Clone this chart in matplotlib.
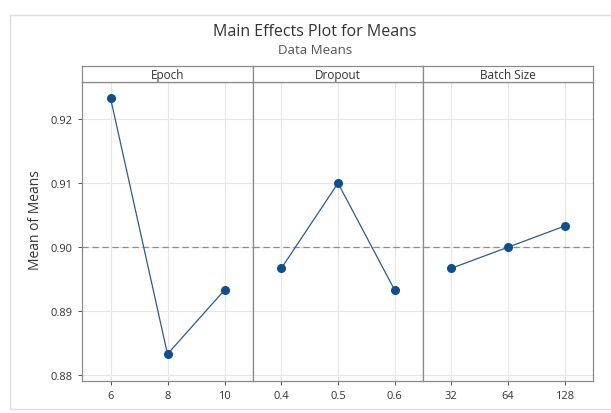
import matplotlib
matplotlib.use('Agg')
import matplotlib.pyplot as plt
from matplotlib.patches import Rectangle

# Factor levels and the mean response at each level
factors = ['Epoch', 'Dropout', 'Batch Size']
levels = [['6', '8', '10'], ['0.4', '0.5', '0.6'], ['32', '64', '128']]
means = [[0.9233, 0.8833, 0.8933],
         [0.8967, 0.9100, 0.8933],
         [0.8967, 0.9000, 0.9033]]
grand_mean = 0.90
yticks = [0.88, 0.89, 0.90, 0.91, 0.92]

plt.rcParams['font.family'] = ['Open Sans', 'DejaVu Sans']

fig = plt.figure(figsize=(6.11, 4.14), dpi=100)
fig.patches.append(Rectangle((10 / 611, 0.01), 1, 1 - 20 / 414, transform=fig.transFigure,
                             facecolor='none', edgecolor='#dddddd', linewidth=1))

left, bottom = 82 / 611, 1 - 382 / 414
widths = [171 / 611, 170 / 611, 170 / 611]
height = (382 - 83) / 414
strip_h = 16 / 414

frame = '#8a8a8a'
x = left
axes = []
for i in range(3):
    ax = fig.add_axes([x, bottom, widths[i], height])
    pos = range(len(levels[i]))
    ax.axhline(grand_mean, color='#8c8c8c', linestyle=(0, (5, 3)), linewidth=0.9, zorder=1)
    ax.plot(pos, means[i], color='#2e5c86', linewidth=0.9, zorder=2)
    ax.plot(pos, means[i], 'o', color='#0f4f8f', markersize=5.5, zorder=3)
    ax.set_xlim(-0.5, 2.5)
    ax.set_ylim(0.8791, 0.9258)
    ax.set_xticks(list(pos))
    ax.set_xticklabels(levels[i])
    ax.set_yticks(yticks)
    ax.grid(True, color='#e6e6e6', linewidth=0.8)
    ax.set_axisbelow(True)
    for s in ax.spines.values():
        s.set_color(frame)
        s.set_linewidth(0.9)
    ax.tick_params(colors='#555555', labelcolor='#333333', labelsize=8, length=3, width=0.7)
    if i == 0:
        ax.set_yticklabels(['%.2f' % v for v in yticks])
        ax.set_ylabel('Mean of Means', fontsize=10, color='#333333')
        ax.yaxis.set_label_coords(-0.23, 0.54)
    else:
        ax.tick_params(axis='y', left=False, labelleft=False)
    # strip with the factor name
    st = fig.add_axes([x, bottom + height, widths[i], strip_h])
    st.set_xticks([])
    st.set_yticks([])
    for s in st.spines.values():
        s.set_color(frame)
        s.set_linewidth(0.9)
    st.text(0.5, 0.45, factors[i], ha='center', va='center', fontsize=8.5, color='#333333',
            transform=st.transAxes)
    axes.append(ax)
    x += widths[i]

fig.text(315 / 611, 1 - 32 / 414, 'Main Effects Plot for Means', ha='center', va='center',
         fontsize=11.5, color='#333333')
fig.text(315 / 611, 1 - 50 / 414, 'Data Means', ha='center', va='center',
         fontsize=9.5, color='#555555')

fig.savefig('out.png', dpi=100)
